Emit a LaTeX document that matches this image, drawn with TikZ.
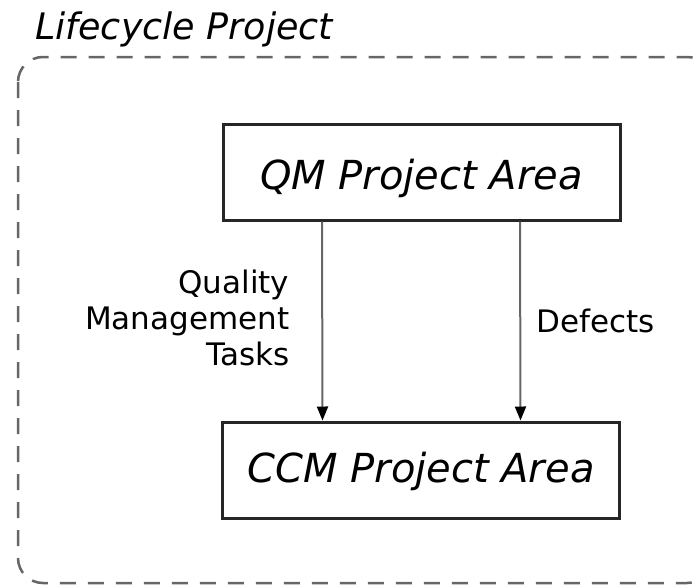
\documentclass[tikz,border=0pt]{standalone}
\usepackage{fontspec}
\setmainfont{DejaVu Sans}
\usetikzlibrary{arrows.meta}
\begin{document}
\begin{tikzpicture}[x=1pt,y=-1pt,
  areabox/.style={draw=black!85, line width=3pt, minimum width=397pt, minimum height=96pt,
    inner sep=0pt, text depth=0pt, font=\fontsize{40}{48}\selectfont\itshape},
  flow/.style={draw=black!60, line width=2pt,
    -{Triangle[width=11pt,length=14pt,fill=black,color=black]}},
  lbl/.style={inner sep=0pt, font=\fontsize{31}{36}\selectfont},
  frame/.style={draw=black!60, line width=2.5pt, dash pattern=on 16pt off 12pt, rounded corners=25pt}]
\useasboundingbox (0,0) rectangle (700,586);
\node[anchor=base west, inner sep=0pt, font=\fontsize{36.5}{44}\selectfont\itshape] (title) at (35,40) {Lifecycle Project};
\draw[frame] (18,57) rectangle (712,583);
\node[areabox, text height=34pt] (qm) at (421.5,172) {QM Project Area};
\node[areabox, text height=24pt] (ccm) at (421,470) {CCM Project Area};
\draw[flow] ([xshift=-99.5pt]qm.south) -- node[lbl, left=32pt, align=right, yshift=3pt] (qmt) {Quality\\Management\\Tasks} ([xshift=-98.5pt]ccm.north);
\draw[flow] ([xshift=98.5pt]qm.south) -- node[lbl, right=15pt] (def) {Defects} ([xshift=99.5pt]ccm.north);
\end{tikzpicture}
\end{document}
